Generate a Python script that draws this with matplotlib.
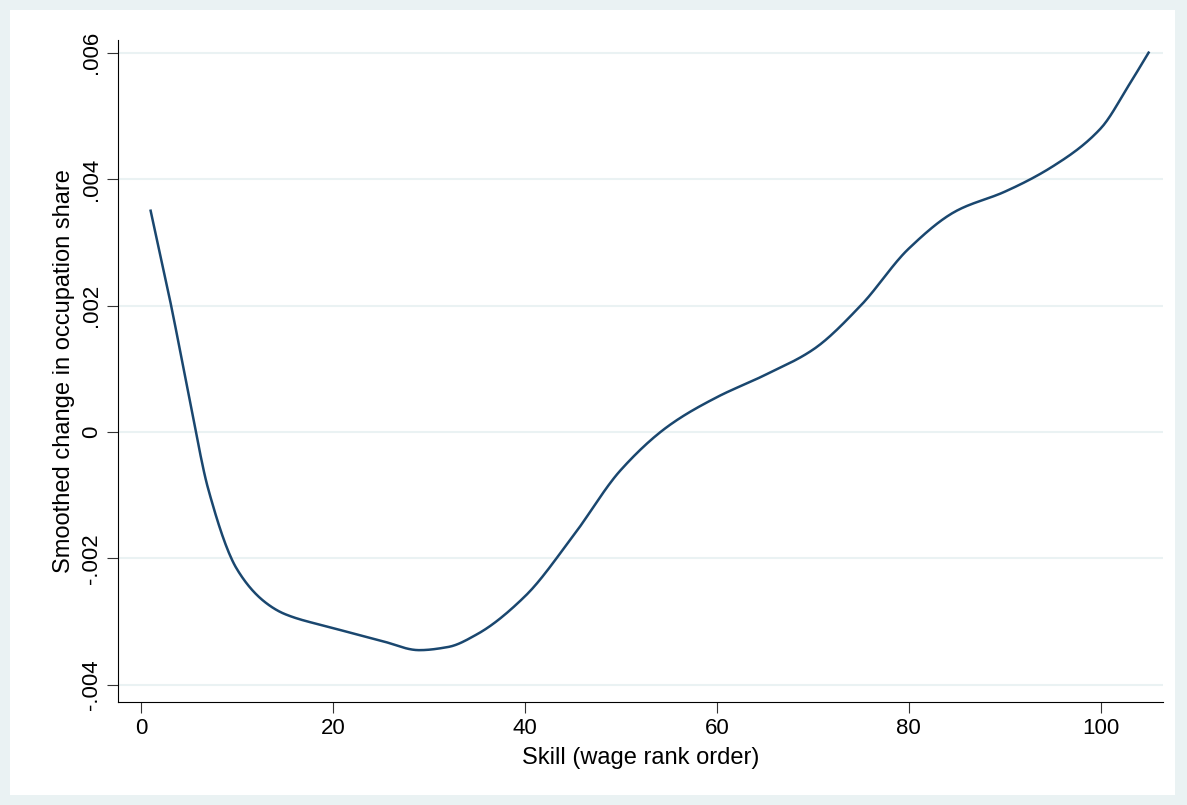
import matplotlib.pyplot as plt
import matplotlib.patches as mpatches
import numpy as np

plt.rcParams['font.family'] = ['Liberation Sans', 'DejaVu Sans']

skill = [1, 3, 5, 7, 10, 13, 15, 20, 25, 29, 32, 35, 40, 45, 50, 55, 60, 65, 70, 75, 80, 85, 90, 95, 100, 103, 105]
change = [0.0035, 0.0021, 0.00057, -0.0009, -0.00217, -0.0027, -0.00288, -0.0031, -0.0033, -0.00345, -0.0034,
          -0.0032, -0.0026, -0.00165, -0.0006, 0.0001, 0.00055, 0.0009, 0.0013, 0.002, 0.0029, 0.0035,
          0.0038, 0.0042, 0.0048, 0.0055, 0.006]
xticks = [0, 20, 40, 60, 80, 100]
yticks = [-0.004, -0.002, 0, 0.002, 0.004, 0.006]
ylabels = ['-.004', '-.002', '0', '.002', '.004', '.006']


def smooth_line(x, y, n=600):
    # monotone cubic (Fritsch-Carlson) through the read points, drawing only
    x = np.asarray(x, float)
    y = np.asarray(y, float)
    h = np.diff(x)
    d = np.diff(y) / h
    m = np.zeros_like(y)
    m[0], m[-1] = d[0], d[-1]
    for i in range(1, len(x) - 1):
        if d[i - 1] * d[i] > 0:
            w1 = 2 * h[i] + h[i - 1]
            w2 = h[i] + 2 * h[i - 1]
            m[i] = (w1 + w2) / (w1 / d[i - 1] + w2 / d[i])
    xs = np.linspace(x[0], x[-1], n)
    k = np.clip(np.searchsorted(x, xs) - 1, 0, len(x) - 2)
    t = (xs - x[k]) / h[k]
    h00 = 2 * t**3 - 3 * t**2 + 1
    h10 = t**3 - 2 * t**2 + t
    h01 = -2 * t**3 + 3 * t**2
    h11 = t**3 - t**2
    ys = h00 * y[k] + h10 * h[k] * m[k] + h01 * y[k + 1] + h11 * h[k] * m[k + 1]
    return xs, ys


fig = plt.figure(figsize=(11.87, 8.05), dpi=100)
fig.patch.set_facecolor('#eaf2f3')
fig.patches.append(mpatches.Rectangle((10/1187, 10/805), 1165/1187, 785/805, transform=fig.transFigure,
                                      facecolor='white', edgecolor='none', zorder=-1))
ax = fig.add_axes([118/1187, 1 - 702/805, (1163-118)/1187, (702-40)/805])
ax.set_zorder(2)
ax.set_facecolor('white')
xs, ys = smooth_line(skill, change)
ax.plot(xs, ys, color='#1a476f', lw=1.8)
ax.set_xlim(-2.4, 106.5)
ax.set_ylim(-0.00427, 0.0062)
ax.set_xticks(xticks)
ax.set_yticks(yticks)
ax.set_yticklabels(ylabels, rotation=90, va='center')
ax.tick_params(labelsize=16, length=8, color='#333333')
ax.grid(axis='y', color='#eaf2f3', lw=1.5)
ax.set_axisbelow(True)
for s in ['top', 'right']:
    ax.spines[s].set_visible(False)
ax.set_xlabel('Skill (wage rank order)', fontsize=17, labelpad=6)
ax.set_ylabel('Smoothed change in occupation share', fontsize=17, labelpad=4)

fig.savefig('out.png', dpi=100, facecolor=fig.get_facecolor())
